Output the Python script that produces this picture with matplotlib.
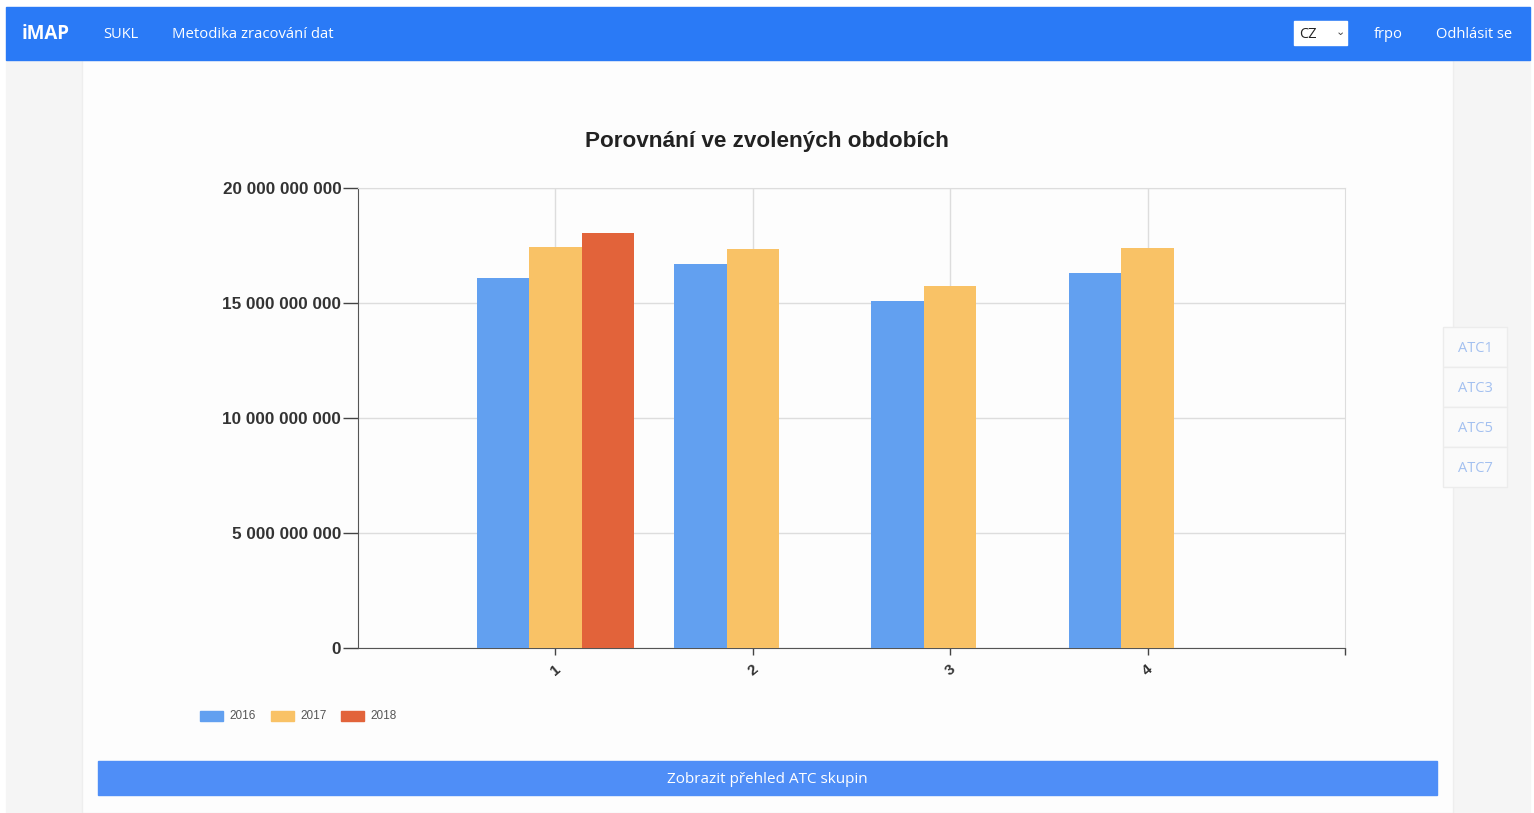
import matplotlib
matplotlib.use("Agg")
import matplotlib.pyplot as plt
from matplotlib.patches import Rectangle
import numpy as np

# ---- data ----
categories = ["1", "2", "3", "4"]
years = ["2016", "2017", "2018"]
v2016 = [16.1e9, 16.7e9, 15.1e9, 16.3e9]
v2017 = [17.43e9, 17.35e9, 15.75e9, 17.4e9]
v2018 = [18.05e9, None, None, None]
series = [v2016, v2017, v2018]
colors = ["#62A0F0", "#F9C266", "#E2633A"]
yticks = [0, 5e9, 10e9, 15e9, 20e9]
nav_items = ["SUKL", "Metodika zracování dat"]
side_items = ["ATC1", "ATC3", "ATC5", "ATC7"]

W, H = 1534, 813
fig = plt.figure(figsize=(W / 100, H / 100), dpi=100)
fig.patch.set_facecolor("#ffffff")

def px(x0, y0, x1, y1):
    return [x0 / W, 1 - y1 / H, (x1 - x0) / W, (y1 - y0) / H]

# page background & panel
bg = fig.add_axes([0, 0, 1, 1])
bg.set_xlim(0, W); bg.set_ylim(H, 0); bg.axis("off")
bg.add_patch(Rectangle((0, 0), W, H, color="#ffffff"))
bg.add_patch(Rectangle((6, 60), 76, 753, color="#f5f5f5"))
bg.add_patch(Rectangle((1453, 60), 77, 753, color="#f5f5f5"))
bg.add_patch(Rectangle((82, 60), 1371, 753, facecolor="#fdfdfd",
                       edgecolor="#eeeeee", lw=1))
# navbar
bg.add_patch(Rectangle((6, 7), 1524, 53, color="#2A7AF6"))
ty = 34
bg.text(22, ty, "iMAP", color="white", fontsize=13.5, fontweight="bold",
        family="Open Sans", va="center", ha="left")
bg.text(103, ty, nav_items[0], color="white", fontsize=10.5,
        family="Open Sans", va="center", ha="left")
bg.text(172, ty, nav_items[1], color="white", fontsize=10.7,
        family="Open Sans", va="center", ha="left")
bg.add_patch(Rectangle((1294, 21), 53, 24, color="white"))
bg.text(1299, ty, "CZ", color="#222", fontsize=10.5, family="Open Sans",
        va="center", ha="left")
bg.text(1340, ty - 2, "⌄", color="#444", fontsize=8, family="DejaVu Sans",
        va="center", ha="center")
bg.text(1374, ty, "frpo", color="white", fontsize=10.5, family="Open Sans",
        va="center", ha="left")
bg.text(1436, ty, "Odhlásit se", color="white", fontsize=10.5,
        family="Open Sans", va="center", ha="left")
# side buttons
for i, s in enumerate(side_items):
    y0 = 327 + i * 40
    bg.add_patch(Rectangle((1443, y0), 64, 40, facecolor="#fafafa",
                           edgecolor="#ececec", lw=1))
    bg.text(1475, y0 + 21, s, color="#a3c0f0", fontsize=10.5,
            family="Open Sans", va="center", ha="center")
# bottom button
bg.add_patch(Rectangle((98, 761), 1339, 34, color="#4F8EF7"))
bg.text(767, 779, "Zobrazit přehled ATC skupin", color="white", fontsize=11,
        family="Open Sans", va="center", ha="center")
# title
bg.text(767, 141, "Porovnání ve zvolených obdobích", color="#222",
        fontsize=16.2, fontweight="bold", family="Liberation Sans",
        va="center", ha="center")
# legend
lx = [200, 271, 341]
for x0, yname, c in zip(lx, years, colors):
    bg.add_patch(Rectangle((x0, 711), 23, 10, color=c))
    bg.text(x0 + 29, 716, yname, color="#555", fontsize=8.5,
            family="Liberation Sans", va="center", ha="left")

# chart
ax = fig.add_axes(px(358, 188, 1345, 648))
ax.set_facecolor("none")
xpos = np.arange(1, len(categories) + 1)
bw = 0.266
for k, (vals, c) in enumerate(zip(series, colors)):
    for xi, v in zip(xpos, vals):
        if v is not None:
            ax.bar(xi + (k - 1) * bw, v, width=bw, color=c, zorder=3)
ax.set_xlim(0, 5)
ax.set_ylim(0, 20e9)
ax.set_yticks(yticks)
ax.set_yticklabels([f"{int(t):,}".replace(",", " ") for t in yticks],
                   fontsize=12.3, fontweight="bold", family="Liberation Sans",
                   color="#333")
ax.set_xticks(xpos)
ax.set_xticklabels(categories, rotation=40, fontsize=11, fontweight="bold",
                   family="Liberation Sans", color="#333")
ax.set_xticks([5], minor=True)
ax.tick_params(axis="y", length=11, width=1, color="#444", pad=1)
ax.tick_params(axis="x", which="both", length=5, width=1, color="#444", pad=5)
ax.grid(True, color="#dddddd", lw=1, zorder=0)
for s in ["top", "right"]:
    ax.spines[s].set_color("#dddddd")
for s in ["left", "bottom"]:
    ax.spines[s].set_color("#555555")

fig.savefig("out.png", dpi=100, facecolor=fig.get_facecolor())
